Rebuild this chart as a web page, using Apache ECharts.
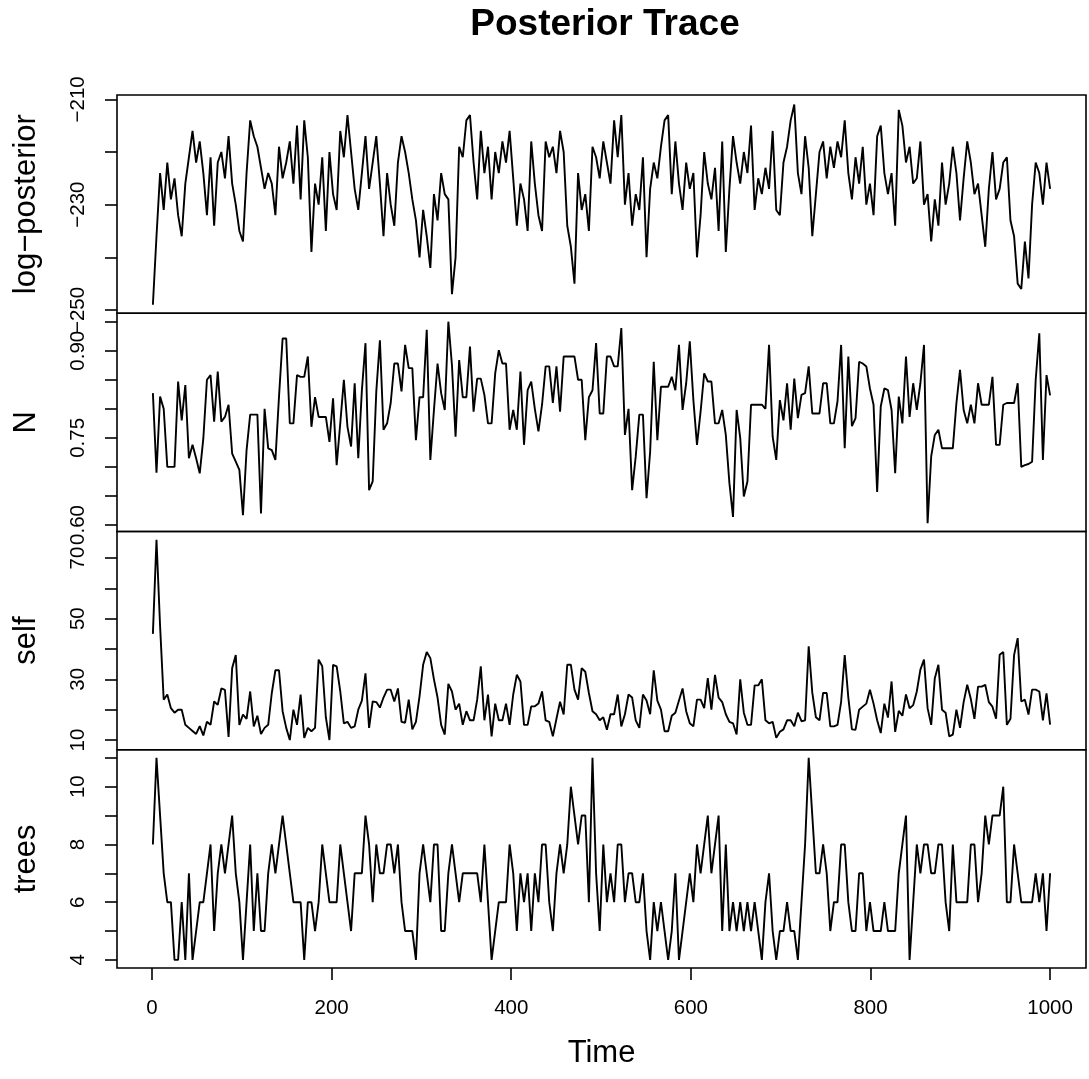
<!DOCTYPE html>
<html>
<head>
<meta charset="utf-8">
<script src="https://cdn.jsdelivr.net/npm/echarts@6/dist/echarts.min.js"></script>
<style>html,body{margin:0;padding:0;background:#fff}#c{width:1089px;height:1079px}</style>
</head>
<body>
<div id="c"></div>
<script>
// ---- data (one value per ~4 iterations, t = 1 … 1000) ----
const logPosterior = [
 -249,-236,-224,-231,-222,-229,-225,-232,-236,-226,
 -221,-216,-222,-218,-224,-232,-221,-234,-222,-220,
 -225,-217,-226,-230,-235,-237,-224,-214,-217,-219,
 -223,-227,-224,-226,-232,-219,-225,-222,-218,-226,
 -215,-229,-214,-221,-239,-226,-230,-221,-235,-220,
 -228,-231,-216,-221,-213,-220,-227,-231,-224,-217,
 -227,-222,-217,-226,-236,-224,-230,-234,-222,-217,
 -220,-224,-229,-233,-240,-231,-236,-242,-228,-233,
 -224,-228,-229,
 -247,-240,-219,-221,-214,-213,-222,-229,-216,-224,
 -219,-229,-220,-224,-218,-222,-216,-225,-234,-226,
 -229,-235,-218,-226,-232,-235,-218,-221,-219,-224,
 -216,-220,-234,-238,-245,-224,-231,-228,-235,-219,
 -221,-225,-218,-222,-226,-214,-221,-213,-230,-224,
 -234,-228,-231,-221,-240,-227,-222,-225,-219,-214,
 -213,-228,-218,-226,-231,-222,-227,-224,-240,-232,
 -220,-226,-229,-223,-235,-218,-239,-227,-217,-222,
 -226,-220,-224,-215,-231,-225,-228,-223,-227,
 -216,-231,-232,-222,-219,-214,-211,-224,-228,-217,
 -223,-236,-228,-220,-218,-225,-219,-223,-218,-221,
 -214,-224,-229,-221,-226,-219,-230,-226,-232,-217,
 -215,-224,-228,-224,-234,-212,-215,-222,-219,-226,
 -225,-218,-230,-228,-237,-229,-234,-222,-230,-226,
 -219,-224,-233,-225,-218,-222,-228,-226,-232,-238,
 -227,-220,-229,-227,-222,-221,-233,-236,-245,-246,
 -237,-244,-230,-222,-224,-230,-222,-227
];
const nValues = [
 0.827,0.69,0.821,0.80,0.70,0.70,0.70,0.847,0.78,0.841,
 0.715,0.738,0.715,0.689,0.749,0.85,0.858,0.778,0.864,0.778,
 0.786,0.807,0.723,0.709,0.695,0.617,0.729,0.79,0.79,0.79,
 0.62,0.80,0.732,0.729,0.712,0.821,0.921,0.921,0.775,0.775,
 0.858,0.855,0.855,0.89,0.769,0.82,0.786,0.786,0.786,0.743,
 0.818,0.703,0.775,0.85,0.769,0.735,0.844,0.715,0.832,0.913,
 0.66,0.675,0.83,0.918,0.764,0.775,0.81,0.878,0.878,0.83,
 0.91,0.87,0.87,0.746,0.82,0.82,0.936,0.712,0.798,0.878,
 0.827,0.798,0.95,
 0.875,0.752,0.884,0.82,0.82,0.907,0.795,0.852,0.852,0.824,
 0.775,0.775,0.861,0.901,0.878,0.878,0.764,0.798,0.764,0.864,
 0.738,0.832,0.847,0.80,0.761,0.807,0.873,0.873,0.81,0.873,
 0.795,0.89,0.89,0.89,0.89,0.85,0.85,0.746,0.82,0.832,
 0.913,0.792,0.792,0.89,0.89,0.873,0.873,0.939,0.755,0.80,
 0.66,0.718,0.79,0.79,0.646,0.726,0.881,0.746,0.838,0.838,
 0.838,0.855,0.832,0.91,0.798,0.844,0.916,0.815,0.738,0.795,
 0.861,0.847,0.847,0.775,0.775,0.798,0.755,0.672,0.614,0.798,
 0.75,0.649,0.675,0.807,0.807,0.807,0.807,0.80,0.91,
 0.752,0.712,0.815,0.78,0.844,0.764,0.852,0.784,0.824,0.827,
 0.873,0.792,0.792,0.792,0.844,0.844,0.775,0.775,0.813,0.91,
 0.732,0.89,0.77,0.784,0.881,0.878,0.873,0.835,0.807,0.657,
 0.804,0.835,0.832,0.798,0.689,0.821,0.775,0.89,0.786,0.844,
 0.798,0.844,0.91,0.603,0.718,0.755,0.764,0.732,0.732,0.732,
 0.732,0.81,0.867,0.798,0.775,0.807,0.775,0.844,0.807,0.807,
 0.807,0.855,0.738,0.738,0.807,0.81,0.81,0.81,0.844,0.70,
 0.703,0.705,0.709,0.85,0.93,0.712,0.858,0.823
];
const selfValues = [
 45,76,47.5,23.3,25,20.5,19,20,20,15,
 14,13,12,14.6,11.5,16,15,22.7,21.6,27,
 26.5,11,33.7,38,15,18.4,17,26,14.5,18,
 12,14,15,25.5,33,33,19.5,14,10,20,
 15,25,10.7,14,12.9,14,36.5,34.3,17.5,10,
 34.8,34.3,26,15.5,16,14,14.5,20,23,32,
 14,22.7,22.5,20.7,24,26.6,26.6,22.7,27,16,
 15.7,23.3,13.5,16,24.4,34.8,39,37,30,24,
 15,11.8,28.5,
 26,20,22,15,19.5,16.5,16.5,23.3,34.3,16.5,
 25,11.2,22,16.5,16.5,22,15,25,31.5,29.3,
 15,15,21.1,21.1,22,26,16.5,16,11.2,17,
 22.6,18.4,34.8,34.8,26.6,23.3,33.7,32.5,25.5,19.5,
 18.5,16.5,17.5,13.4,18.5,18.5,25,14.5,18.5,25,
 24,16.5,14,25,23,18.5,33,23,20,12.9,
 12.9,18,19,23,27,19.5,15.5,14.5,23.3,23.3,
 20.5,30.4,20,31.5,24,22.5,18.5,16,15.5,11.8,
 30,19,15,15,28,28,30,16.5,15.5,
 16,10.7,12.7,13.5,16.5,16.5,14.5,19,16.2,16.5,
 40.9,25.6,17.5,16.5,25.5,25.5,14.5,14.5,15,22.6,
 38,24,13.5,13.4,20,21,22,26.6,22,16.5,
 12.3,22,17.4,29.3,12.7,19.6,18,25,20.5,21.5,
 26,33.2,36.5,20.5,15,30.4,34.8,20,19,11.2,
 11.8,20,14,22.5,28.2,23.5,17,27.6,27.6,28.2,
 22.5,21,17,38.1,39,15,17,38,43.6,22.7,
 23.3,18.4,26.6,26.6,26,16.5,25.4,15.1
];
const treesValues = [
 8,11,9,7,6,6,4,4,6,4,
 7,4,5,6,6,7,8,5,7,8,
 7,8,9,7,6,4,6,8,5,7,
 5,5,7,8,7,8,9,8,7,6,
 6,6,4,6,6,5,6,8,7,6,
 6,6,8,7,6,5,7,7,7,9,
 8,6,8,7,7,8,8,7,8,6,
 5,5,5,4,7,8,7,6,8,8,
 5,5,7,
 8,7,6,7,7,7,7,7,6,8,
 6,4,5,6,6,6,8,7,5,7,
 6,7,5,7,6,8,8,6,5,7,
 8,7,8,10,9,8,9,9,6,11,
 7,5,8,6,7,6,8,8,6,7,
 7,6,6,7,5,4,6,5,6,5,
 4,5,7,4,5,6,7,6,8,7,
 8,9,7,8,9,5,8,5,6,5,
 6,5,6,5,6,5,4,6,7,
 5,4,5,5,6,5,5,4,6,8,
 11,9,7,7,8,7,5,6,6,8,
 8,6,5,5,7,7,5,6,5,5,
 5,6,5,5,5,7,8,9,4,6,
 8,7,8,8,7,7,8,8,6,5,
 8,6,6,6,6,8,8,6,7,9,
 8,9,9,9,10,6,6,8,7,6,
 6,6,6,7,6,7,5,7
];
const timeStart = 1, timeEnd = 1000;
const xTicks = [0, 200, 400, 600, 800, 1000];
const seriesNames = ['log\u2212posterior', 'N', 'self', 'trees'];
const yTicks = [
  [-250, -240, -230, -220, -210],
  [0.60, 0.65, 0.70, 0.75, 0.80, 0.85, 0.90, 0.95],
  [10, 20, 30, 40, 50, 60, 70],
  [4, 5, 6, 7, 8, 9, 10, 11]
];
const yLabels = [
  [-250, -230, -210],
  [0.60, 0.75, 0.90],
  [10, 30, 50, 70],
  [4, 6, 8, 10]
];
const yRanges = [[-250.62, -209.18], [0.5888, 0.9645], [6.79, 78.74], [3.72, 11.28]];
const allSeries = [logPosterior, nValues, selfValues, treesValues];

// ---- chart ----
const FONT = "'Liberation Sans', Arial, Helvetica, sans-serif";
const top0 = 95, panelH = 218.25, plotLeft = 117, plotRight = 3;
const xMin = timeStart - 0.04 * (timeEnd - timeStart), xMax = timeEnd + 0.04 * (timeEnd - timeStart);
const fmt = [
  v => (v < 0 ? '\u2212' : '') + Math.abs(v),
  v => v.toFixed(2),
  v => String(v),
  v => String(v)
];

const grids = [], xAxes = [], yAxes = [], series = [];
for (let k = 0; k < 4; k++) {
  grids.push({
    left: plotLeft, right: plotRight, top: top0 + k * panelH, height: panelH,
    show: true, borderColor: '#000', borderWidth: 1.6, backgroundColor: 'transparent',
    containLabel: false, outerBoundsMode: 'none'
  });
  const last = k === 3;
  xAxes.push({
    gridIndex: k, type: 'value', min: xMin, max: xMax, position: 'bottom',
    axisLine: { show: false, onZero: false }, splitLine: { show: false },
    axisTick: { show: last, customValues: xTicks, length: 12, lineStyle: { color: '#000', width: 1.6 } },
    axisLabel: { show: last, customValues: xTicks, margin: 30, fontSize: 20.5, color: '#000', fontFamily: FONT,
                 formatter: v => String(v) },
    name: last ? 'Time' : '', nameLocation: 'middle', nameGap: 70,
    nameTextStyle: { fontSize: 31, color: '#000', fontFamily: FONT }
  });
  yAxes.push({
    gridIndex: k, type: 'value', min: yRanges[k][0], max: yRanges[k][1], position: 'left',
    axisLine: { show: false, onZero: false }, splitLine: { show: false },
    axisTick: { show: true, customValues: yTicks[k], length: 12, lineStyle: { color: '#000', width: 1.6 } },
    axisLabel: { customValues: yLabels[k], rotate: 90, margin: 28, fontSize: 20.5, color: '#000',
                 fontFamily: FONT, formatter: fmt[k] },
    name: seriesNames[k], nameLocation: 'middle', nameRotate: 90, nameGap: 75,
    nameTextStyle: { fontSize: 31, color: '#000', fontFamily: FONT }
  });
  const vals = allSeries[k];
  const n = vals.length;
  series.push({
    type: 'line', xAxisIndex: k, yAxisIndex: k, symbol: 'none', showSymbol: false,
    data: vals.map((v, i) => [timeStart + i * (timeEnd - timeStart) / (n - 1), v]),
    lineStyle: { color: '#000', width: 1.9 }, clip: false, silent: true
  });
}

const chart = echarts.init(document.getElementById('c'), null, { renderer: 'canvas' });
chart.setOption({
  animation: false,
  backgroundColor: '#fff',
  title: {
    text: 'Posterior Trace', left: 605, top: 6, textAlign: 'center', padding: 0,
    textStyle: { fontSize: 37, fontWeight: 'bold', color: '#000', fontFamily: FONT }
  },
  grid: grids, xAxis: xAxes, yAxis: yAxes, series: series
});
</script>
</body>
</html>
